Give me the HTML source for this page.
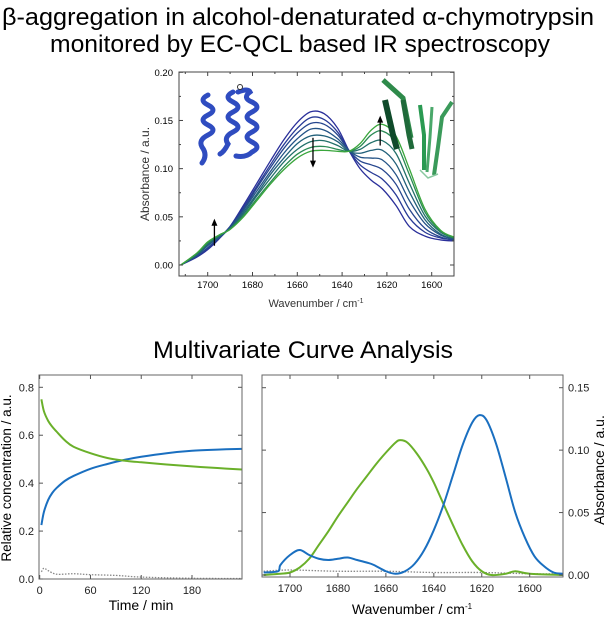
<!DOCTYPE html>
<html><head><meta charset="utf-8">
<style>
html,body{margin:0;padding:0;background:#fff;}
svg{display:block;font-family:"Liberation Sans",sans-serif;}
</style></head>
<body>
<svg id="fig" width="609" height="617" viewBox="0 0 609 617">
  <text x="298" y="25" font-size="24" text-anchor="middle" textLength="592" lengthAdjust="spacingAndGlyphs">β-aggregation in alcohol-denaturated α-chymotrypsin</text>
  <text x="300" y="52" font-size="24" text-anchor="middle" textLength="500" lengthAdjust="spacingAndGlyphs">monitored by EC-QCL based IR spectroscopy</text>
  <text x="303" y="358" font-size="24" text-anchor="middle" textLength="300" lengthAdjust="spacingAndGlyphs">Multivariate Curve Analysis</text>
  <g id="top"></g>
  <g id="bl"></g>
  <g id="br"></g>
</svg>
<script>
// ---------- top chart data ----------
const topWavenumbers=[1712,1705,1700,1695,1690,1684,1678,1672,1666,1660,1654,1648,1642,1637,1632,1627,1622,1616,1610,1603,1596,1590];
const spectrum1=[0.000,0.008,0.016,0.027,0.040,0.062,0.085,0.108,0.130,0.148,0.159,0.157,0.142,0.119,0.100,0.088,0.079,0.062,0.040,0.030,0.026,0.025];
const spectrum2=[0.000,0.009,0.017,0.028,0.040,0.060,0.082,0.104,0.125,0.142,0.153,0.151,0.138,0.119,0.104,0.096,0.089,0.073,0.049,0.034,0.028,0.026];
const spectrum3=[0.000,0.009,0.018,0.028,0.039,0.058,0.080,0.101,0.121,0.137,0.147,0.146,0.135,0.119,0.108,0.104,0.099,0.084,0.058,0.038,0.029,0.026];
const spectrum4=[0.000,0.010,0.020,0.029,0.039,0.057,0.077,0.097,0.116,0.131,0.141,0.140,0.131,0.119,0.112,0.111,0.109,0.094,0.067,0.043,0.031,0.027];
const spectrum5=[0.000,0.010,0.021,0.029,0.038,0.055,0.074,0.094,0.111,0.126,0.134,0.134,0.128,0.118,0.116,0.119,0.119,0.105,0.076,0.047,0.032,0.027];
const spectrum6=[0.000,0.011,0.022,0.030,0.038,0.053,0.072,0.090,0.107,0.120,0.128,0.129,0.124,0.118,0.120,0.127,0.129,0.116,0.085,0.051,0.034,0.028];
const spectrum7=[0.000,0.012,0.023,0.031,0.037,0.051,0.069,0.086,0.102,0.115,0.122,0.123,0.120,0.118,0.123,0.135,0.139,0.127,0.094,0.055,0.035,0.028];
const spectrum8=[0.000,0.012,0.024,0.031,0.037,0.050,0.067,0.084,0.099,0.111,0.118,0.119,0.118,0.118,0.126,0.140,0.146,0.134,0.100,0.058,0.036,0.029];
const topSeries=[spectrum1,spectrum2,spectrum3,spectrum4,spectrum5,spectrum6,spectrum7,spectrum8];
const topYTicks=[0.00,0.05,0.10,0.15,0.20];
const topXTicks=[1700,1680,1660,1640,1620,1600];

// ---------- bottom-left data ----------
const timeGreen=[2,5,10,15,20,30,40,60,80,100,120,150,180,210,239];
const concGreen=[0.750,0.700,0.660,0.635,0.615,0.578,0.552,0.525,0.505,0.494,0.487,0.478,0.470,0.463,0.457];
const timeBlue=[2,5,10,15,20,30,40,60,80,100,120,150,180,210,239];
const concBlue=[0.225,0.280,0.330,0.360,0.380,0.410,0.430,0.460,0.480,0.497,0.510,0.525,0.535,0.540,0.543];
const timeGray=[2,5,10,20,40,60,90,120,180,239];
const concGray=[0.030,0.045,0.035,0.020,0.022,0.018,0.015,0.008,0.003,0.002];
const blYTicks=[0.0,0.2,0.4,0.6,0.8];
const blXTicks=[0,60,120,180];

// ---------- bottom-right data ----------
const wnGreen=[1711,1704,1700,1696,1692,1688,1684,1680,1676,1672,1668,1664,1660,1656,1654,1651,1647,1643,1640,1636,1632,1628,1624,1620,1616,1610,1606,1600,1586];
const absGreen=[0.000,0.001,0.002,0.006,0.013,0.024,0.035,0.047,0.058,0.069,0.079,0.089,0.098,0.106,0.108,0.106,0.097,0.085,0.074,0.057,0.040,0.024,0.011,0.003,0.000,0.001,0.003,0.001,0.000];
const wnBlue=[1711,1705,1704,1700,1696,1692,1688,1684,1680,1676,1672,1668,1665,1660,1656,1652,1648,1644,1640,1636,1632,1628,1624,1621,1618,1614,1610,1606,1602,1598,1594,1590,1586];
const absBlue=[0.002,0.003,0.008,0.016,0.020,0.016,0.013,0.012,0.013,0.014,0.012,0.010,0.008,0.003,0.001,0.003,0.009,0.020,0.036,0.056,0.080,0.104,0.122,0.128,0.124,0.105,0.078,0.050,0.030,0.015,0.007,0.002,0.001];
const wnGray=[1711,1700,1680,1660,1640,1620,1600,1586];
const absGray=[0.003,0.004,0.003,0.003,0.002,0.002,0.001,0.001];
const brYTicks=[0.00,0.05,0.10,0.15];
const brXTicks=[1700,1680,1660,1640,1620,1600];

const NS="http://www.w3.org/2000/svg";
function mk(tag,attrs,parent){const e=document.createElementNS(NS,tag);for(const k in attrs)e.setAttribute(k,attrs[k]);parent.appendChild(e);return e;}
function lin(d0,d1,r0,r1){return v=>r0+(v-d0)*(r1-r0)/(d1-d0);}
function smoothPath(xs,ys){
  let d="M"+xs[0].toFixed(2)+","+ys[0].toFixed(2);
  for(let i=0;i<xs.length-1;i++){
    const x0=xs[i-1]??xs[i],y0=ys[i-1]??ys[i],x1=xs[i],y1=ys[i],x2=xs[i+1],y2=ys[i+1],x3=xs[i+2]??x2,y3=ys[i+2]??y2;
    const c1x=x1+(x2-x0)/6,c1y=y1+(y2-y0)/6,c2x=x2-(x3-x1)/6,c2y=y2-(y3-y1)/6;
    d+=" C"+c1x.toFixed(2)+","+c1y.toFixed(2)+" "+c2x.toFixed(2)+","+c2y.toFixed(2)+" "+x2.toFixed(2)+","+y2.toFixed(2);
  }
  return d;
}

// ---------- top chart ----------
(function(){
  const g=document.getElementById('top');
  const L=179,R=454,T=72,B=276;
  const X=lin(1700,1600,207.7,431.7), Y=lin(0,0.2,265,72.3);
  const cp=mk('clipPath',{id:'cpTop'},g);mk('rect',{x:L,y:T,width:R-L,height:B-T},cp);
  const colors=['#2a2f9a','#283a96','#26468e','#245386','#21607a','#22706a','#2a8a55','#3aa63c'];
  const lg=mk('g',{'clip-path':'url(#cpTop)'},g);
  topSeries.forEach((s,i)=>{
    const p=mk('path',{d:smoothPath(topWavenumbers.map(X),s.map(Y)),fill:'none',stroke:colors[i],'stroke-width':1.3},lg);
    
    
  });
  const helix=mk('g',{fill:'none',stroke:'#2f4cc0','stroke-width':5,'stroke-linecap':'round'},g);
  
  
  mk('path',{d:'M208,95 q-10,5 0,10 q10,5 0,10 q-10,5 0,10 q10,5 0,10 q-10,5 -6,12 q6,8 0,16'},helix);
  mk('path',{d:'M233,92 q-10,5 0,10 q10,5 0,10 q-10,5 0,10 q10,5 0,10 q-10,5 -5,12 q-4,8 -8,10'},helix);
  mk('path',{d:'M238,92 q10,-4 12,0 q-8,6 2,10 q10,5 0,10 q-10,5 0,10 q10,5 0,10 q-10,5 0,10 q10,5 0,10 q-6,6 -16,4'},helix);
  mk('circle',{cx:240,cy:87,r:2.5,fill:'#fff',stroke:'#333','stroke-width':1},g);
  const sheet=mk('g',{fill:'none','stroke-linecap':'butt'},g);
  
  
  mk('path',{d:'M383,80 l20,18 l8,40',stroke:'#2e8a4a','stroke-width':5},sheet);
  mk('path',{d:'M385,100 l8,35 l4,14',stroke:'#0f4a2a','stroke-width':6},sheet);
  mk('path',{d:'M403,100 l6,35 l3,14',stroke:'#1f6a3a','stroke-width':5},sheet);
  mk('path',{d:'M420,105 l4,30 l0,35',stroke:'#2a9a52','stroke-width':4},sheet);
  mk('path',{d:'M432,107 l-2,30 l-3,35',stroke:'#4aa86a','stroke-width':3},sheet);
  mk('path',{d:'M452,102 l-10,15 l-4,30 l-4,28',stroke:'#3a9a5a','stroke-width':4},sheet);
  mk('path',{d:'M420,170 l8,8 l10,-4',stroke:'#8ac8a0','stroke-width':1.5},sheet);
  function arrow(wn,v0,v1,name){
    const a=mk('g',{},g);
    const x=X(wn),y0=Y(v0),y1=Y(v1),dir=y1<y0?1:-1;
    mk('line',{x1:x,y1:y0,x2:x,y2:y1+dir*6,stroke:'#000','stroke-width':1.3},a);
    mk('path',{d:`M${x-3},${y1+dir*7} L${x},${y1} L${x+3},${y1+dir*7}Z`,fill:'#000'},a);
  }
  arrow(1697,0.020,0.048,'arrow-up-1697');
  arrow(1653,0.132,0.101,'arrow-down-1653');
  arrow(1623,0.124,0.155,'arrow-up-1623');
  mk('rect',{x:L,y:T,width:R-L,height:B-T,fill:'none',stroke:'#444','stroke-width':1},g);
  topYTicks.forEach((v,i)=>{
    const y=Y(v);
    mk('line',{x1:L,y1:y,x2:L+4,y2:y,stroke:'#444'},g);
    mk('line',{x1:R,y1:y,x2:R-4,y2:y,stroke:'#444'},g);
    if(i<topYTicks.length-1){const ym=Y(v+0.025);
      mk('line',{x1:L,y1:ym,x2:L+2,y2:ym,stroke:'#444'},g);
      mk('line',{x1:R,y1:ym,x2:R-2,y2:ym,stroke:'#444'},g);}
    const t=mk('text',{x:L-6,y:y+3.5,'font-size':9.5,'text-anchor':'end'},g);t.textContent=v.toFixed(2);
    
  });
  topXTicks.forEach(v=>{
    const x=X(v);
    mk('line',{x1:x,y1:B,x2:x,y2:B-4,stroke:'#444'},g);
    mk('line',{x1:x,y1:T,x2:x,y2:T+4,stroke:'#444'},g);
    const xm=X(v+10);
    mk('line',{x1:xm,y1:B,x2:xm,y2:B-2,stroke:'#444'},g);
    mk('line',{x1:xm,y1:T,x2:xm,y2:T+2,stroke:'#444'},g);
    const t=mk('text',{x:x,y:B+12,'font-size':9.5,'text-anchor':'middle'},g);t.textContent=v;
    
  });
  const xt=mk('text',{x:316,y:307,'font-size':11,'text-anchor':'middle',fill:'#333'},g);
  xt.innerHTML='Wavenumber / cm<tspan dy="-4" font-size="7">-1</tspan>';
  
  const yt=mk('text',{x:0,y:0,'font-size':12,'text-anchor':'middle',transform:'translate(149,174) rotate(-90)',fill:'#333'},g);
  yt.textContent='Absorbance / a.u.';
  
})();

// ---------- bottom-left ----------
(function(){
  const g=document.getElementById('bl');
  const L=39,R=242,T=375,B=579;
  const X=lin(0,180,39.7,192), Y=lin(0,0.8,579,387.3);
  const cp=mk('clipPath',{id:'cpBL'},g);mk('rect',{x:L,y:T,width:R-L,height:B-T},cp);
  const lg=mk('g',{'clip-path':'url(#cpBL)'},g);
  const pg=mk('path',{d:smoothPath(timeGray.map(X),concGray.map(Y)),fill:'none',stroke:'#888','stroke-width':1.3,'stroke-dasharray':'1.5,1.5'},lg);
  
  const pb=mk('path',{d:smoothPath(timeBlue.map(X),concBlue.map(Y)),fill:'none',stroke:'#1a6fc0','stroke-width':2},lg);
  
  const pgr=mk('path',{d:smoothPath(timeGreen.map(X),concGreen.map(Y)),fill:'none',stroke:'#6ab02a','stroke-width':2},lg);
  
  mk('rect',{x:L,y:T,width:R-L,height:B-T,fill:'none',stroke:'#666','stroke-width':1},g);
  blYTicks.forEach(v=>{
    const y=Y(v);
    mk('line',{x1:L,y1:y,x2:L+4,y2:y,stroke:'#555'},g);
    mk('line',{x1:R,y1:y,x2:R-4,y2:y,stroke:'#555'},g);
    const t=mk('text',{x:L-5,y:y+4,'font-size':11,'text-anchor':'end',fill:'#222'},g);t.textContent=v.toFixed(1);
    
  });
  blXTicks.forEach(v=>{
    const x=X(v);
    mk('line',{x1:x,y1:B,x2:x,y2:B-4,stroke:'#555'},g);
    mk('line',{x1:x,y1:T,x2:x,y2:T+4,stroke:'#555'},g);
    const t=mk('text',{x:x,y:B+15,'font-size':11,'text-anchor':'middle',fill:'#222'},g);t.textContent=v;
    
  });
  const xt=mk('text',{x:141,y:610,'font-size':14,'text-anchor':'middle'},g);xt.textContent='Time / min';
  
  const yt=mk('text',{x:0,y:0,'font-size':13.5,'text-anchor':'middle',transform:'translate(11,478) rotate(-90)'},g);yt.textContent='Relative concentration / a.u.';
  
})();

// ---------- bottom-right ----------
(function(){
  const g=document.getElementById('br');
  const L=262,R=563,T=375,B=577;
  const X=lin(1700,1600,290,529.7), Y=lin(0,0.15,575,387.7);
  const cp=mk('clipPath',{id:'cpBR'},g);mk('rect',{x:L,y:T,width:R-L,height:B-T},cp);
  const lg=mk('g',{'clip-path':'url(#cpBR)'},g);
  const pg=mk('path',{d:smoothPath(wnGray.map(X),absGray.map(Y)),fill:'none',stroke:'#888','stroke-width':1.3,'stroke-dasharray':'1.5,1.5'},lg);
  
  const pgr=mk('path',{d:smoothPath(wnGreen.map(X),absGreen.map(Y)),fill:'none',stroke:'#6ab02a','stroke-width':2},lg);
  
  const pb=mk('path',{d:smoothPath(wnBlue.map(X),absBlue.map(Y)),fill:'none',stroke:'#1a6fc0','stroke-width':2},lg);
  
  mk('rect',{x:L,y:T,width:R-L,height:B-T,fill:'none',stroke:'#666','stroke-width':1},g);
  brYTicks.forEach(v=>{
    const y=Y(v);
    mk('line',{x1:L,y1:y,x2:L+4,y2:y,stroke:'#555'},g);
    mk('line',{x1:R,y1:y,x2:R-4,y2:y,stroke:'#555'},g);
    const t=mk('text',{x:R+5,y:y+4,'font-size':11,'text-anchor':'start',fill:'#222'},g);t.textContent=v.toFixed(2);
    
  });
  brXTicks.forEach(v=>{
    const x=X(v);
    mk('line',{x1:x,y1:B,x2:x,y2:B-4,stroke:'#555'},g);
    mk('line',{x1:x,y1:T,x2:x,y2:T+4,stroke:'#555'},g);
    const t=mk('text',{x:x,y:B+15,'font-size':11,'text-anchor':'middle',fill:'#222'},g);t.textContent=v;
    
  });
  const xt=mk('text',{x:412,y:614,'font-size':14,'text-anchor':'middle'},g);
  xt.innerHTML='Wavenumber / cm<tspan dy="-5" font-size="8">-1</tspan>';
  
  const yt=mk('text',{x:0,y:0,'font-size':14,'text-anchor':'middle',transform:'translate(604,470) rotate(-90)'},g);yt.textContent='Absorbance / a.u.';
  
})();
</script>
</body></html>
